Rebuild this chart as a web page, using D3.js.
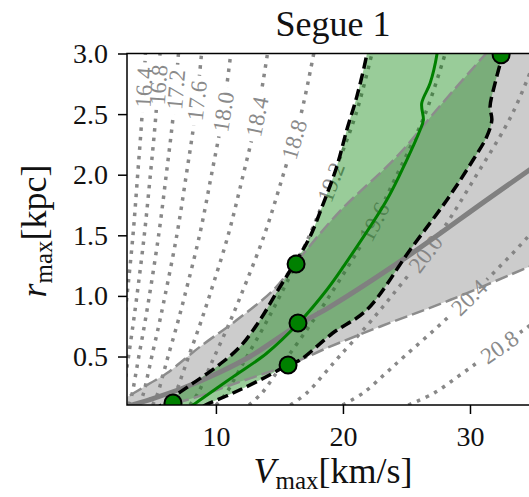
<!DOCTYPE html>
<html>
<head>
<meta charset="utf-8">
<script src="https://cdn.jsdelivr.net/npm/d3@7"></script>
<style>
	body { margin: 0; background: #fff; }
	svg text { font-family: "Liberation Serif", "DejaVu Serif", serif; }
</style>
</head>
<body>
<div id="chart"></div>
<script>
// log10 J contours: each level gives Vmax along the shared rmax grid
var contourLevels = ['16.4', '16.8', '17.2', '17.6', '18.0', '18.4', '18.8', '19.2', '19.6', '20.0', '20.4', '20.8'];
var contourR = [0.1, 0.2, 0.35, 0.5, 0.75, 1.0, 1.5, 2.0, 2.5, 3.0];
var contourV = [
	[2.00, 2.16, 2.32, 2.48, 2.75, 3.00, 3.47, 3.84, 4.19, 4.45],
	[2.51, 2.72, 2.92, 3.12, 3.46, 3.78, 4.36, 4.84, 5.28, 5.60],
	[3.16, 3.42, 3.68, 3.93, 4.36, 4.76, 5.49, 6.09, 6.65, 7.05],
	[3.98, 4.31, 4.64, 4.95, 5.49, 5.99, 6.92, 7.67, 8.37, 8.87],
	[5.02, 5.43, 5.84, 6.23, 6.91, 7.54, 8.71, 9.65, 10.54, 11.17],
	[6.31, 6.83, 7.35, 7.85, 8.70, 9.49, 10.96, 12.15, 13.26, 14.06],
	[7.95, 8.60, 9.25, 9.88, 10.95, 11.95, 13.80, 15.30, 16.70, 17.70],
	[10.01, 10.83, 11.64, 12.44, 13.79, 15.04, 17.37, 19.26, 21.02, 22.28],
	[12.60, 13.63, 14.66, 15.66, 17.35, 18.94, 21.87, 24.25, 26.47, 28.05],
	[15.86, 17.16, 18.46, 19.71, 21.85, 23.84, 27.54, 30.53, 33.32, 35.32],
	[19.97, 21.60, 23.24, 24.82, 27.51, 30.02, 34.66, 38.43, 41.95, 44.46],
	[25.14, 27.20, 29.25, 31.24, 34.63, 37.79, 43.64, 48.38, 52.81, 55.97]
];
var labelR = [2.72, 2.74, 2.70, 2.61, 2.52, 2.48, 2.29, 1.94, 1.61, 1.35, 0.99, 0.58];

// grey relation: median and scatter
var medV = [3.0, 3.4, 4.81, 7.43, 10.3, 12.69, 16.6, 18.98, 25.0, 31.3, 35.5];
var medR = [0.085, 0.1, 0.145, 0.24, 0.37, 0.5, 0.77, 0.91, 1.32, 1.79, 2.1];
var hiV = [2.0, 3.0, 4.81, 6.13, 8.75, 11.64, 14.52, 16.36, 19.77, 24.24, 27.5, 31.27, 32.0];
var hiR = [0.11, 0.165, 0.279, 0.362, 0.581, 0.801, 1.049, 1.282, 1.70, 2.149, 2.55, 3.0, 3.08];
var loV = [5.5, 6.3, 8.75, 10.06, 12.69, 15.7, 18.98, 23.0, 28.43, 34.65, 37.0];
var loR = [0.08, 0.1, 0.175, 0.224, 0.32, 0.43, 0.581, 0.75, 0.966, 1.24, 1.34];

// Segue 1 green region (both edges listed from the bottom up)
var segUpV = [5.0, 6.62, 8.2, 10.06, 11.9, 13.47, 14.89, 16.36, 17.41, 18.46, 19.51, 20.3, 21.09, 21.87, 22.0];
var segUpR = [0.05, 0.166, 0.28, 0.416, 0.581, 0.801, 1.049, 1.296, 1.489, 1.764, 2.066, 2.369, 2.644, 2.99, 3.1];
var segLoV = [9.0, 9.54, 11.35, 13.47, 15.7, 16.62, 19.2, 21.87, 25.28, 28.17, 30.24, 31.32, 31.72, 31.58, 31.98, 32.6, 33.0];
var segLoR = [0.09, 0.117, 0.199, 0.306, 0.43, 0.471, 0.694, 0.884, 1.379, 1.79, 2.121, 2.314, 2.452, 2.561, 2.757, 3.0, 3.15];
var segMidV = [7.8, 8.2, 8.75, 11.37, 14.0, 16.49, 18.72, 20.03, 23.45, 25.02, 26.07, 26.33, 26.2, 26.86, 27.39, 27.5];
var segMidR = [0.07, 0.1, 0.141, 0.334, 0.527, 0.774, 1.049, 1.241, 1.791, 2.121, 2.369, 2.451, 2.589, 2.754, 2.988, 3.1];

var pointV = [32.45, 16.31, 16.46, 15.68, 6.62];
var pointR = [2.99, 1.263, 0.777, 0.43, 0.117];

var xTicks = [10, 20, 30];
var yTicks = [0.5, 1.0, 1.5, 2.0, 2.5, 3.0];

var serif = '"Liberation Serif", "DejaVu Serif", serif';

var width = 529,
	height = 497,
	plotLeft = 127, plotRight = 533.5, plotTop = 53.5, plotBottom = 405;

var svg = d3.select('#chart').append('svg').attr('width', width).attr('height', height)
	.style('font-family', serif);
var defs = svg.append('defs');

var x = d3.scaleLinear().domain([3, 35]).range([plotLeft, plotRight]);
var y = d3.scaleLinear().domain([0.1, 3.0]).range([plotBottom, plotTop]);

defs.append('clipPath').attr('id', 'plot')
	.append('rect').attr('x', plotLeft).attr('y', plotTop)
	.attr('width', plotRight - plotLeft).attr('height', plotBottom - plotTop);

function zip(vs, rs) {
	return vs.map(function (v, i) { return [v, rs[i]]; });
}

var line = d3.line()
	.x(function (d) { return x(d[0]); })
	.y(function (d) { return y(d[1]); })
	.curve(d3.curveCatmullRom);

function band(a, b) {
	// edge a bottom-up, then edge b top-down, closed
	return line(a) + line(b.slice().reverse()).replace(/^M/, 'L') + 'Z';
}

var plot = svg.append('g').attr('clip-path', 'url(#plot)');

// contours with inline labels
var contourLayer = plot.append('g');
var labelSize = 23;
contourLevels.forEach(function (level, i) {
	var path = contourLayer.append('path')
		.attr('d', line(zip(contourV[i], contourR)))
		.attr('fill', 'none')
		.attr('stroke', '#888')
		.attr('stroke-width', 3.5)
		.attr('stroke-dasharray', '3.5,6');

	var node = path.node(), total = node.getTotalLength();
	var ty = y(labelR[i]), best = 0, bestD = Infinity;
	for (var s = 0; s <= total; s += 0.5) {
		var p = node.getPointAtLength(s);
		if (Math.abs(p.y - ty) < bestD) { bestD = Math.abs(p.y - ty); best = s; }
	}
	var pc = node.getPointAtLength(best),
		p0 = node.getPointAtLength(Math.max(0, best - 4)),
		p1 = node.getPointAtLength(Math.min(total, best + 4));
	var angle = Math.atan2(p1.y - p0.y, p1.x - p0.x) * 180 / Math.PI;
	var tf = 'translate(' + pc.x + ',' + pc.y + ') rotate(' + angle + ')';

	var label = contourLayer.append('text')
		.attr('transform', tf)
		.attr('text-anchor', 'middle')
		.attr('dy', '0.35em')
		.style('font-family', serif)
		.style('font-size', labelSize + 'px')
		.style('fill', '#8a8a8a')
		.text(level);
	var w = label.node().getComputedTextLength();

	var mask = defs.append('mask').attr('id', 'gap' + i).attr('maskUnits', 'userSpaceOnUse')
		.attr('x', 0).attr('y', 0).attr('width', width).attr('height', height);
	mask.append('rect').attr('x', 0).attr('y', 0).attr('width', width).attr('height', height).attr('fill', 'white');
	mask.append('rect')
		.attr('transform', tf)
		.attr('x', -w / 2 - 5).attr('y', -labelSize / 2)
		.attr('width', w + 10).attr('height', labelSize)
		.attr('fill', 'black');
	path.attr('mask', 'url(#gap' + i + ')');
});

// grey band (closed off to the right of the frame) and Segue 1 region
plot.append('path')
	.attr('d', band(zip(hiV, hiR).concat([[42, 3.2]]), zip(loV, loR).concat([[42, 1.6]])))
	.attr('fill', 'rgba(128,128,128,0.4)');
plot.append('path')
	.attr('d', band(zip(segUpV, segUpR), zip(segLoV, segLoR)))
	.attr('fill', 'rgba(0,128,0,0.4)');

[zip(hiV, hiR), zip(loV, loR)].forEach(function (pts) {
	plot.append('path')
		.attr('d', line(pts))
		.attr('fill', 'none')
		.attr('stroke', '#8c8c8c')
		.attr('stroke-width', 2.5)
		.attr('stroke-dasharray', '13,5');
});

plot.append('path')
	.attr('d', line(zip(medV, medR)))
	.attr('fill', 'none')
	.attr('stroke', '#808080')
	.attr('stroke-width', 5);

plot.append('path')
	.attr('d', line(zip(segMidV, segMidR)))
	.attr('fill', 'none')
	.attr('stroke', '#008000')
	.attr('stroke-width', 3);

[zip(segUpV, segUpR), zip(segLoV, segLoR)].forEach(function (pts) {
	plot.append('path')
		.attr('d', line(pts))
		.attr('fill', 'none')
		.attr('stroke', '#000')
		.attr('stroke-width', 3.5)
		.attr('stroke-dasharray', '11,5');
});

plot.selectAll('.pt')
	.data(zip(pointV, pointR))
	.enter().append('circle')
	.attr('class', 'pt')
	.attr('cx', function (d) { return x(d[0]); })
	.attr('cy', function (d) { return y(d[1]); })
	.attr('r', 8.5)
	.attr('fill', '#008000')
	.attr('stroke', '#000')
	.attr('stroke-width', 2);

// axes
var xAxis = svg.append('g')
	.attr('transform', 'translate(0,' + plotBottom + ')')
	.call(d3.axisBottom(x).tickValues(xTicks).tickSize(9).tickSizeOuter(0).tickPadding(12));
var yAxis = svg.append('g')
	.attr('transform', 'translate(' + plotLeft + ',0)')
	.call(d3.axisLeft(y).tickValues(yTicks).tickFormat(d3.format('.1f')).tickSize(9).tickSizeOuter(0).tickPadding(10));

[xAxis, yAxis].forEach(function (ax) {
	ax.attr('font-family', null);
	ax.select('.domain').remove();
	ax.selectAll('line').attr('stroke', '#000').attr('stroke-width', 1.5);
	ax.selectAll('text').style('font-size', '28px').style('fill', '#111').style('font-family', serif);
});

svg.append('rect')
	.attr('x', plotLeft).attr('y', plotTop)
	.attr('width', plotRight - plotLeft).attr('height', plotBottom - plotTop)
	.attr('fill', 'none')
	.attr('stroke', '#000')
	.attr('stroke-width', 1.5);

svg.append('text')
	.attr('x', 333).attr('y', 36)
	.attr('text-anchor', 'middle')
	.style('font-family', serif)
	.style('font-size', '36px')
	.style('fill', '#111')
	.text('Segue 1');

var xl = svg.append('text')
	.attr('x', 333).attr('y', 483)
	.attr('text-anchor', 'middle')
	.style('font-family', serif)
	.style('font-size', '36px')
	.style('fill', '#111');
xl.append('tspan').style('font-style', 'italic').text('V');
xl.append('tspan').attr('dy', 6).style('font-size', '25px').text('max');
xl.append('tspan').attr('dy', -6).text('[km/s]');

var yl = svg.append('text')
	.attr('transform', 'translate(46,231) rotate(-90)')
	.attr('text-anchor', 'middle')
	.style('font-family', serif)
	.style('font-size', '36px')
	.style('fill', '#111');
yl.append('tspan').style('font-style', 'italic').text('r');
yl.append('tspan').attr('dy', 6).style('font-size', '25px').text('max');
yl.append('tspan').attr('dy', -6).text('[kpc]');
</script>
</body>
</html>
